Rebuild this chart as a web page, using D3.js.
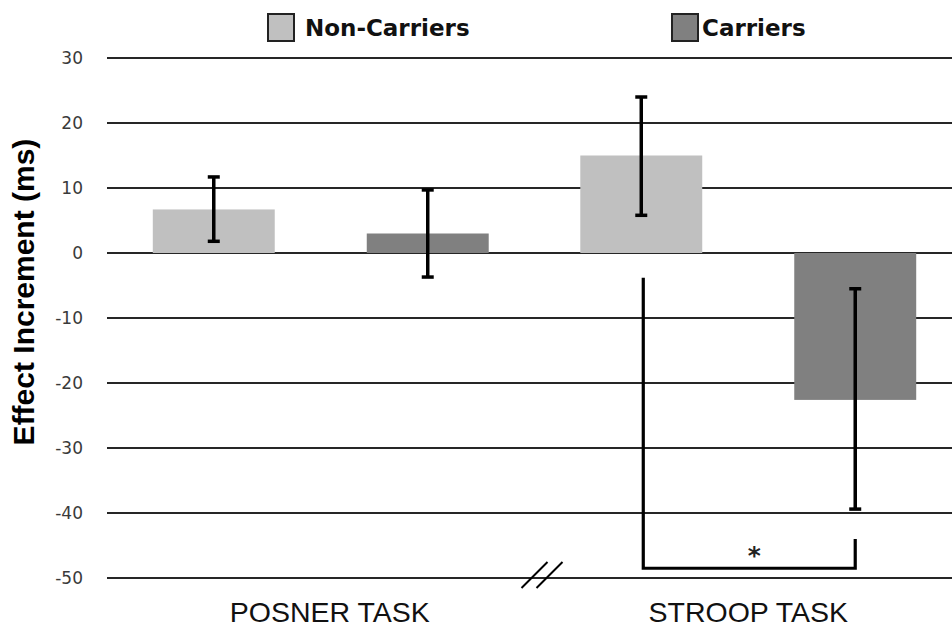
<!DOCTYPE html>
<html>
<head>
<meta charset="utf-8">
<script src="https://cdn.jsdelivr.net/npm/d3@7"></script>
<style>
  body { margin: 0; background: #fff; }
  svg { display: block; }
</style>
</head>
<body>
<script>
// values
const tasks = ["POSNER TASK", "STROOP TASK"];
const series = ["Non-Carriers", "Carriers"];
const colors = ["#c0c0c0", "#808080"];

const nonCarriers = [6.7, 15.0];
const nonCarriersLow = [1.8, 5.8];
const nonCarriersHigh = [11.7, 24.0];

const carriers = [3.0, -22.6];
const carriersLow = [-3.7, -39.4];
const carriersHigh = [9.7, -5.5];

const yTicks = [30, 20, 10, 0, -10, -20, -30, -40, -50];

// significance bracket (Stroop task), in ms units
const bracketLeftTop = -3.8;
const bracketRightTop = -44;
const bracketBottom = -48.5;

const width = 952;
const height = 629;

const svg = d3.select("body")
    .append("svg")
    .attr("width", width)
    .attr("height", height);

const y = d3.scaleLinear()
    .domain([-50, 30])
    .range([578, 58]);

const x = d3.scaleBand()
    .domain(tasks)
    .range([107, 962])
    .paddingInner(0)
    .paddingOuter(0);

const xSub = d3.scaleBand()
    .domain(series)
    .range([0, x.bandwidth()])
    .paddingInner(0.43)
    .paddingOuter(0.214);

// gridlines
svg.append("g")
    .selectAll("line")
    .data(yTicks)
    .join("line")
    .attr("x1", 107)
    .attr("x2", width)
    .attr("y1", d => y(d))
    .attr("y2", d => y(d))
    .attr("stroke", "#262626")
    .attr("stroke-width", 1.8);

// y tick labels
svg.append("g")
    .selectAll("text")
    .data(yTicks)
    .join("text")
    .attr("x", 83)
    .attr("y", d => y(d))
    .attr("dy", "0.36em")
    .attr("text-anchor", "end")
    .attr("font-family", "DejaVu Sans")
    .attr("font-size", 17)
    .attr("fill", "#3a3a3a")
    .text(d => d);

// y axis title
svg.append("text")
    .attr("transform", "translate(34,292) rotate(-90)")
    .attr("text-anchor", "middle")
    .attr("font-family", "Liberation Sans")
    .attr("font-weight", "bold")
    .attr("font-size", 30)
    .attr("fill", "#000")
    .text("Effect Increment (ms)");

// bars
const rows = [];
tasks.forEach((t, i) => {
    rows.push({ task: t, s: series[0], v: nonCarriers[i], lo: nonCarriersLow[i], hi: nonCarriersHigh[i], c: colors[0] });
    rows.push({ task: t, s: series[1], v: carriers[i], lo: carriersLow[i], hi: carriersHigh[i], c: colors[1] });
});

svg.append("g")
    .selectAll("rect")
    .data(rows)
    .join("rect")
    .attr("x", d => x(d.task) + xSub(d.s))
    .attr("width", xSub.bandwidth())
    .attr("y", d => y(Math.max(0, d.v)))
    .attr("height", d => Math.abs(y(d.v) - y(0)))
    .attr("fill", d => d.c);

// error bars
const eb = svg.append("g")
    .attr("stroke", "#000")
    .attr("fill", "none");

rows.forEach(d => {
    const cx = x(d.task) + xSub(d.s) + xSub.bandwidth() / 2;
    eb.append("line")
        .attr("x1", cx).attr("x2", cx)
        .attr("y1", y(d.hi)).attr("y2", y(d.lo))
        .attr("stroke-width", 3.5);
    [d.hi, d.lo].forEach(v => {
        eb.append("line")
            .attr("x1", cx - 6).attr("x2", cx + 6)
            .attr("y1", y(v)).attr("y2", y(v))
            .attr("stroke-width", 3.5);
    });
});

// significance bracket
const bx1 = x(tasks[1]) + xSub(series[0]) + xSub.bandwidth() / 2 + 2;
const bx2 = x(tasks[1]) + xSub(series[1]) + xSub.bandwidth() / 2;
svg.append("path")
    .attr("d", `M${bx1},${y(bracketLeftTop)}V${y(bracketBottom)}H${bx2}V${y(bracketRightTop)}`)
    .attr("fill", "none")
    .attr("stroke", "#000")
    .attr("stroke-width", 3.2);

svg.append("text")
    .attr("x", (bx1 + bx2) / 2 + 5)
    .attr("y", y(bracketBottom) - 4)
    .attr("text-anchor", "middle")
    .attr("font-family", "DejaVu Sans")
    .attr("font-weight", "bold")
    .attr("font-size", 25)
    .attr("fill", "#222")
    .text("*");

// axis break mark
const bk = x(tasks[1]) + 4;
[-10, 5].forEach(o => {
    svg.append("line")
        .attr("x1", bk + o - 7).attr("y1", 588)
        .attr("x2", bk + o + 19).attr("y2", 562)
        .attr("stroke", "#000")
        .attr("stroke-width", 2);
});

// x labels
svg.append("g")
    .selectAll("text")
    .data(tasks)
    .join("text")
    .attr("x", (d, i) => x(d) + x.bandwidth() / 2 + (i === 0 ? 9 : 0))
    .attr("y", 622)
    .attr("text-anchor", "middle")
    .attr("font-family", "Liberation Sans")
    .attr("font-size", 28.5)
    .attr("fill", "#111")
    .text(d => d);

// legend
const legendX = [268, 672];
const legend = svg.append("g");
series.forEach((s, i) => {
    legend.append("rect")
        .attr("x", legendX[i])
        .attr("y", 14)
        .attr("width", 26)
        .attr("height", 27)
        .attr("fill", colors[i])
        .attr("stroke", "#222")
        .attr("stroke-width", 2);
    legend.append("text")
        .attr("x", legendX[i] + (i === 0 ? 37 : 30))
        .attr("y", 36)
        .attr("font-family", "DejaVu Sans")
        .attr("font-weight", "bold")
        .attr("font-size", 23)
        .attr("fill", "#111")
        .text(s);
});
</script>
</body>
</html>
